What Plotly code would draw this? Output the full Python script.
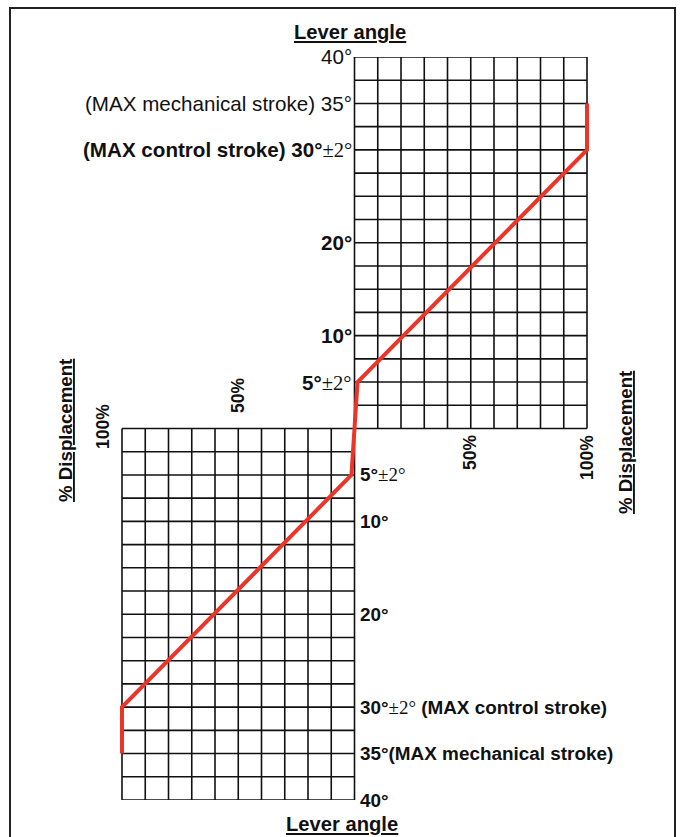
import plotly.graph_objects as go

# ---------------- data ----------------
# characteristic: % displacement vs lever angle (same in both quadrants, mirrored)
displacement_pct = [1.3, 100, 100]
lever_angle_deg = [5, 30, 35]

# grid definition
grid_x_ticks = [0, 10, 20, 30, 40, 50, 60, 70, 80, 90, 100]
grid_y_ticks = [i * 2.5 for i in range(17)]  # 0 .. 40

# tick labels (angle, html text)
SERIF = "<span style='font-family:Liberation Serif;font-weight:normal'>±2°</span>"
upper_angle_labels = [40, 35, 30, 20, 10, 5]
upper_angle_texts = [
    "40°",
    "(MAX mechanical stroke) 35°",
    "<b>(MAX control stroke) 30°</b>" + SERIF,
    "<b>20°</b>",
    "<b>10°</b>",
    "<b>5°</b>" + SERIF,
]
lower_angle_labels = [5, 10, 20, 30, 35, 40]
lower_angle_texts = [
    "<b>5°</b>" + SERIF,
    "<b>10°</b>",
    "<b>20°</b>",
    "<b>30°</b>" + SERIF + "<b> (MAX control stroke)</b>",
    "<b>35°(MAX mechanical stroke)</b>",
    "<b>40°</b>",
]
pct_labels = ["50%", "100%"]

W, H = 683, 837
FONT = "Liberation Sans, Arial, sans-serif"
PX_PER_PCT = (587 - 122) / 200.0


def px(x):
    return x / W


def py(y):
    return 1 - y / H


# ---------------- figure ----------------
# build the continuous line: lower quadrant is the point-mirror of the upper one
xs = [-d for d in reversed(displacement_pct)] + list(displacement_pct)
ys = [-a for a in reversed(lever_angle_deg)] + list(lever_angle_deg)

fig = go.Figure()
fig.add_trace(go.Scatter(x=xs, y=ys, mode="lines",
                         line=dict(color="#ec3428", width=4),
                         hoverinfo="skip", showlegend=False))

shapes = []
gl = dict(color="#111", width=1.6)
# upper quadrant grid
for gx in grid_x_ticks:
    shapes.append(dict(type="line", xref="x", yref="y", x0=gx, x1=gx, y0=0, y1=40, line=gl, layer="below"))
for gy in grid_y_ticks:
    shapes.append(dict(type="line", xref="x", yref="y", x0=0, x1=100, y0=gy, y1=gy, line=gl, layer="below"))
# lower quadrant grid
for gx in grid_x_ticks:
    shapes.append(dict(type="line", xref="x", yref="y", x0=-gx, x1=-gx, y0=-40, y1=0, line=gl, layer="below"))
for gy in grid_y_ticks:
    shapes.append(dict(type="line", xref="x", yref="y", x0=-100, x1=0, y0=-gy, y1=-gy, line=gl, layer="below"))
# outer frame
shapes.append(dict(type="rect", xref="paper", yref="paper", x0=px(10), x1=px(675), y0=py(860), y1=py(8),
                   line=dict(color="#222", width=2)))

ann = []
for a, t in zip(upper_angle_labels, upper_angle_texts):
    ann.append(dict(x=0, y=a, xref="x", yref="y", text=t, showarrow=False,
                    xanchor="right", yanchor="middle", xshift=-1,
                    font=dict(size=20.6, color="#111", family=FONT)))
for a, t in zip(lower_angle_labels, lower_angle_texts):
    ann.append(dict(x=0, y=-a, xref="x", yref="y", text=t, showarrow=False,
                    xanchor="left", yanchor="middle", xshift=3,
                    font=dict(size=18.9, color="#111", family=FONT)))

# percent labels (rotated)
pct_pos = {
    ("lower", "50%"): (238, 396),
    ("lower", "100%"): (103, 427),
    ("upper", "50%"): (470, 453),
    ("upper", "100%"): (587, 458),
}
for side in ["lower", "upper"]:
    for t in pct_labels:
        x0, y0 = pct_pos[(side, t)]
        ann.append(dict(x=px(x0), y=py(y0), xref="paper", yref="paper", text="<b>" + t + "</b>",
                        showarrow=False, textangle=-90, xanchor="center", yanchor="middle",
                        font=dict(size=17.5, color="#111", family=FONT)))

for (x0, y0) in [(65, 431), (626, 443)]:
    ann.append(dict(x=px(x0), y=py(y0), xref="paper", yref="paper", text="<b><u>% Displacement</u></b>",
                    showarrow=False, textangle=-90, xanchor="center", yanchor="middle",
                    font=dict(size=18.7, color="#111", family=FONT)))
for (x0, y0) in [(350, 32), (342, 824)]:
    ann.append(dict(x=px(x0), y=py(y0), xref="paper", yref="paper", text="<b><u>Lever angle</u></b>",
                    showarrow=False, xanchor="center", yanchor="middle",
                    font=dict(size=20.2, color="#111", family=FONT)))

pad = 3  # % of padding so the edge line is not clipped
fig.update_layout(
    width=W, height=H,
    margin=dict(l=0, r=0, t=0, b=0),
    paper_bgcolor="white", plot_bgcolor="white",
    shapes=shapes, annotations=ann,
    xaxis=dict(range=[-100 - pad, 100 + pad],
               domain=[px(122 - pad * PX_PER_PCT), px(587 + pad * PX_PER_PCT)],
               visible=False, fixedrange=True),
    yaxis=dict(range=[-40, 40], domain=[py(800), py(57)], visible=False, fixedrange=True),
    showlegend=False,
)

fig.write_html("out.html", config={"displayModeBar": False},
               post_script="document.body.style.margin='0';")
